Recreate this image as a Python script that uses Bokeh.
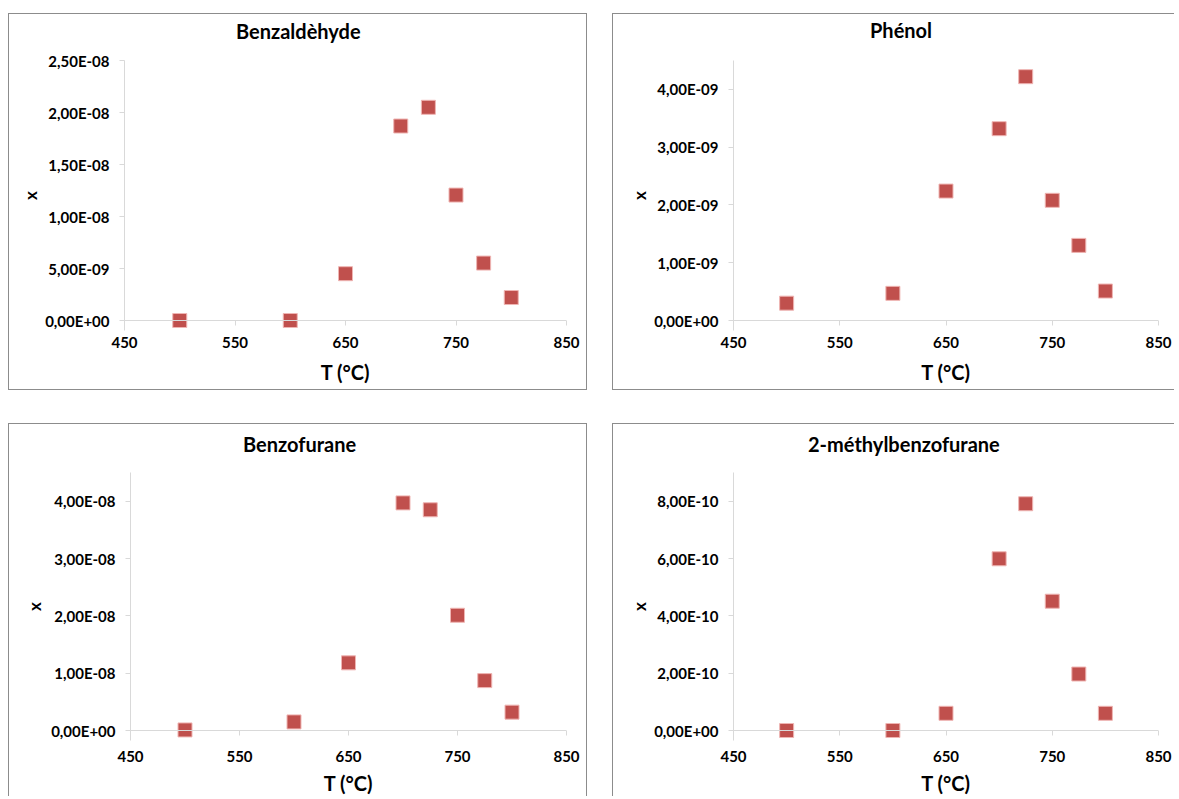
from bokeh.plotting import figure
from bokeh.layouts import column, row
from bokeh.models import FixedTicker, CustomJSTickFormatter, Span
from bokeh.embed import file_html
from bokeh.resources import INLINE

# ---- data ----
temperature = [500, 600, 650, 700, 725, 750, 775, 800]
benzaldehyde = [0.0, 0.0, 4.5e-9, 1.87e-8, 2.05e-8, 1.206e-8, 5.52e-9, 2.21e-9]
phenol = [3.0e-10, 4.7e-10, 2.24e-9, 3.32e-9, 4.22e-9, 2.08e-9, 1.30e-9, 5.1e-10]
benzofurane = [1.0e-10, 1.5e-9, 1.18e-8, 3.97e-8, 3.85e-8, 2.01e-8, 8.7e-9, 3.2e-9]
methylbenzofurane = [0.0, 0.0, 6.0e-11, 5.99e-10, 7.91e-10, 4.51e-10, 1.97e-10, 6.0e-11]

titles = ["Benzaldèhyde", "Phénol", "Benzofurane", "2-méthylbenzofurane"]
x_ticks = [450, 550, 650, 750, 850]
y_ticks_benzaldehyde = [0, 5e-9, 1e-8, 1.5e-8, 2e-8, 2.5e-8]
y_ticks_phenol = [0, 1e-9, 2e-9, 3e-9, 4e-9]
y_ticks_benzofurane = [0, 1e-8, 2e-8, 3e-8, 4e-8]
y_ticks_methyl = [0, 2e-10, 4e-10, 6e-10, 8e-10]
y_max = [2.5e-8, 4.5e-9, 4.5e-8, 9e-10]
x_label = "T (°C)"
y_label = "x"

FONT = "Lato"
MARKER = "#C0504D"
AXIS_GRAY = "#D9D9D9"
BORDER = "1px solid #8C8C8C"

fmt = CustomJSTickFormatter(code="""
const s = tick.toExponential(2);
const parts = s.split('e');
let e = parseInt(parts[1]);
const sign = e < 0 ? '-' : '+';
e = Math.abs(e);
return parts[0].replace('.', ',') + 'E' + sign + (e < 10 ? '0' : '') + e;
""")


def make_panel(title, ys, yticks, ymax, width, height, mb_left, mb_right,
               mb_top, mb_bottom, frame_h, title_offset, title_lift,
               lbl_standoff, axlbl_standoff, ylbl_standoff, border_css):
    pad = ymax * 10.0 / frame_h
    p = figure(width=width, height=height, x_range=(450, 850),
               y_range=(-pad, ymax), output_backend="svg",
               toolbar_location=None, min_border_left=mb_left,
               min_border_right=mb_right, min_border_top=mb_top,
               min_border_bottom=mb_bottom)
    p.outline_line_color = None
    p.xgrid.visible = False
    p.ygrid.visible = False
    p.styles = border_css

    # x axis
    xa = p.xaxis[0]
    xa.ticker = FixedTicker(ticks=x_ticks)
    xa.axis_line_color = None
    xa.major_tick_line_color = AXIS_GRAY
    xa.major_tick_in = 10
    xa.major_tick_out = -5
    xa.minor_tick_in = 0
    xa.minor_tick_out = 0
    xa.minor_tick_line_color = None
    xa.major_label_standoff = lbl_standoff
    xa.major_label_text_font = FONT
    xa.major_label_text_font_style = "bold"
    xa.major_label_text_font_size = "15px"
    xa.major_label_text_color = "#000000"
    xa.axis_label = x_label
    xa.axis_label_text_font = FONT
    xa.axis_label_text_font_style = "bold"
    xa.axis_label_text_font_size = "20px"
    xa.axis_label_text_color = "#000000"
    xa.axis_label_standoff = axlbl_standoff

    # y axis
    ya = p.yaxis[0]
    ya.ticker = FixedTicker(ticks=yticks)
    ya.formatter = fmt
    ya.axis_line_color = AXIS_GRAY
    ya.major_tick_line_color = AXIS_GRAY
    ya.major_tick_in = 0
    ya.major_tick_out = 5
    ya.minor_tick_in = 0
    ya.minor_tick_out = 0
    ya.minor_tick_line_color = None
    ya.major_label_standoff = 10
    ya.major_label_text_font = FONT
    ya.major_label_text_font_style = "bold"
    ya.major_label_text_font_size = "15px"
    ya.major_label_text_color = "#000000"
    ya.axis_label = y_label
    ya.axis_label_text_font = FONT
    ya.axis_label_text_font_style = "bold"
    ya.axis_label_text_font_size = "17px"
    ya.axis_label_text_color = "#000000"
    ya.axis_label_standoff = ylbl_standoff

    p.add_layout(Span(location=0, dimension="width", line_color=AXIS_GRAY,
                      line_width=1))

    p.scatter(temperature, ys, marker="square", size=14,
              fill_color=MARKER, line_color="#EFB5B3", line_width=1)

    p.title.text = title
    p.title.align = "left"
    p.title.offset = title_offset
    p.title.text_font = FONT
    p.title.text_font_style = "bold"
    p.title.text_font_size = "20px"
    p.title.text_color = "#000000"
    try:
        p.title.padding = dict(left=0, right=0, top=0, bottom=title_lift)
        p.title.standoff = 0
    except Exception:
        p.title.standoff = 10
    return p


full = {"border": BORDER}
p1 = make_panel(titles[0], benzaldehyde, y_ticks_benzaldehyde, y_max[0],
                579, 377, 115, 22, 46, 61, 260, 111.5, 18, 6, 9, 1, full)
p2 = make_panel(titles[1], phenol, y_ticks_phenol, y_max[1],
                562, 377, 120, 17, 46, 61, 260, 136.5, 19, 6, 9, 1,
                {"border-left": BORDER, "border-top": BORDER,
                 "border-bottom": BORDER})
p3 = make_panel(titles[2], benzofurane, y_ticks_benzofurane, y_max[2],
                579, 373, 121, 22, 48, 57, 258, 112.5, 17, 10, 6, 3,
                {"border-left": BORDER, "border-top": BORDER,
                 "border-right": BORDER})
p4 = make_panel(titles[3], methylbenzofurane, y_ticks_methyl, y_max[3],
                562, 373, 120, 17, 48, 57, 258, 74.5, 17, 10, 6, 1,
                {"border-left": BORDER, "border-top": BORDER})

layout = column(row(p1, p2, spacing=25), row(p3, p4, spacing=25),
                spacing=33, margin=(13, 0, 0, 8))

open("out.html", "w").write(file_html(layout, INLINE))
